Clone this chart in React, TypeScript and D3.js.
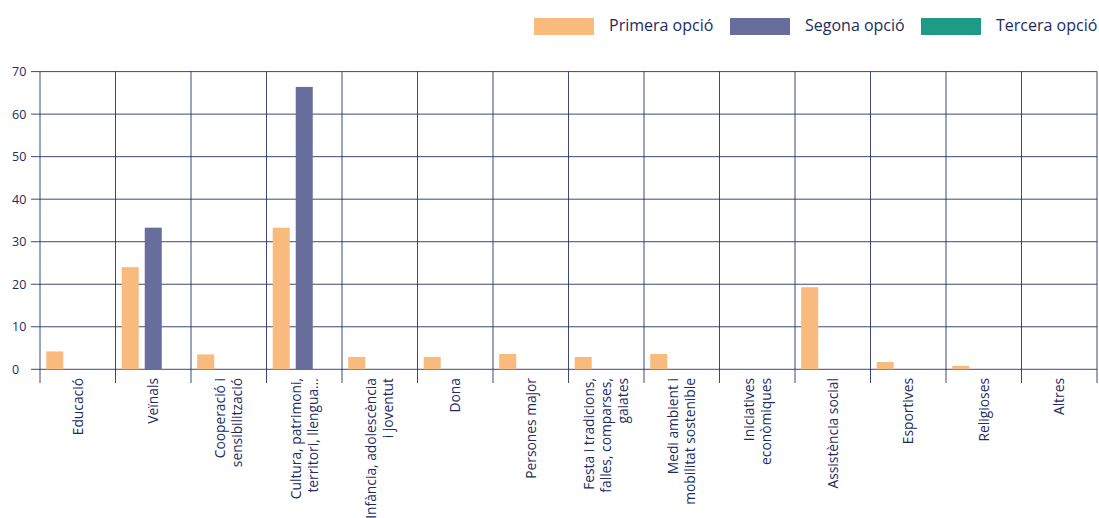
import React from 'react';
import * as d3 from 'd3';

// categories (each label broken into its wrapped lines)
const categories: string[][] = [
  ['Educació'],
  ['Veïnals'],
  ['Cooperació i', 'sensibilització'],
  ['Cultura, patrimoni,', 'territori, llengua...'],
  ['Infància, adolescència', 'i joventut'],
  ['Dona'],
  ['Persones major'],
  ['Festa i tradicions,', 'falles, comparses,', 'gaiates'],
  ['Medi ambient i', 'mobilitat sostenible'],
  ['Iniciatives', 'econòmiques'],
  ['Assistència social'],
  ['Esportives'],
  ['Religioses'],
  ['Altres'],
];

const primera = [4.2, 24.0, 3.5, 33.3, 2.9, 2.9, 3.6, 2.9, 3.6, 0, 19.3, 1.7, 0.8, 0];
const segona = [0, 33.3, 0, 66.4, 0, 0, 0, 0, 0, 0, 0, 0, 0, 0];
const tercera = [0, 0, 0, 0, 0, 0, 0, 0, 0, 0, 0, 0, 0, 0];

const seriesNames = ['Primera opció', 'Segona opció', 'Tercera opció'];
const seriesColors = ['#F9BA7E', '#676E9C', '#1E9A87'];
const yTicks = [0, 10, 20, 30, 40, 50, 60, 70];

const W = 1099;
const H = 518;
const INK = '#1c2b5e';
const FONT = '"Open Sans", sans-serif';

export default function App() {
  const series = [primera, segona, tercera];
  const keys = categories.map((_, i) => String(i));

  const x = d3.scaleBand<string>().domain(keys).range([40, 1097]).padding(0);
  const inner = d3
    .scaleBand<number>()
    .domain([0, 1, 2])
    .range([0, x.bandwidth()])
    .paddingInner(0.26)
    .paddingOuter(0.27);
  const y = d3.scaleLinear().domain([0, 70]).range([369.3, 71.6]);

  const bounds = keys.map((k) => x(k)!).concat([x.range()[1]]);
  const lineH = 17;

  return (
    <svg
      width={W}
      height={H}
      style={{ position: 'absolute', left: 0, top: 0, background: '#fff' }}
      fontFamily={FONT}
    >
      {/* horizontal grid */}
      {yTicks.map((t) => (
        <g key={'h' + t}>
          <line x1={31} x2={1097} y1={y(t)} y2={y(t)} stroke={INK} strokeWidth={1} opacity={0.85} />
          <text x={12} y={y(t)} dy="0.35em" fontSize={12.5} fill={INK}>
            {t}
          </text>
        </g>
      ))}

      {/* vertical grid and category ticks */}
      {bounds.map((bx, i) => (
        <line key={'v' + i} x1={bx} x2={bx} y1={y(70)} y2={383} stroke={INK} strokeWidth={1} opacity={0.85} />
      ))}

      {/* bars */}
      {series.map((vals, s) =>
        vals.map((v, i) =>
          v > 0 ? (
            <rect
              key={`b${s}-${i}`}
              x={x(keys[i])! + inner(s)!}
              width={inner.bandwidth()}
              y={y(v)}
              height={y(0) - y(v)}
              fill={seriesColors[s]}
            />
          ) : null
        )
      )}

      {/* category labels, rotated */}
      {categories.map((lines, i) => {
        const cx = x(keys[i])! + x.bandwidth() / 2;
        return (
          <g key={'l' + i}>
            {lines.map((ln, j) => {
              const lx = cx + (j - (lines.length - 1) / 2) * lineH;
              return (
                <text
                  key={j}
                  transform={`translate(${lx},378) rotate(-90)`}
                  textAnchor="end"
                  dy="0.35em"
                  fontSize={13.8}
                  fill={INK}
                >
                  {ln}
                </text>
              );
            })}
          </g>
        );
      })}

      {/* legend */}
      {seriesNames.map((name, s) => {
        const lx = [534, 730, 921][s];
        return (
          <g key={'lg' + s}>
            <rect x={lx} y={18} width={60} height={17} fill={seriesColors[s]} />
            <text x={lx + 75} y={25.5} dy="0.35em" fontSize={16} fill={INK}>
              {name}
            </text>
          </g>
        );
      })}
    </svg>
  );
}
